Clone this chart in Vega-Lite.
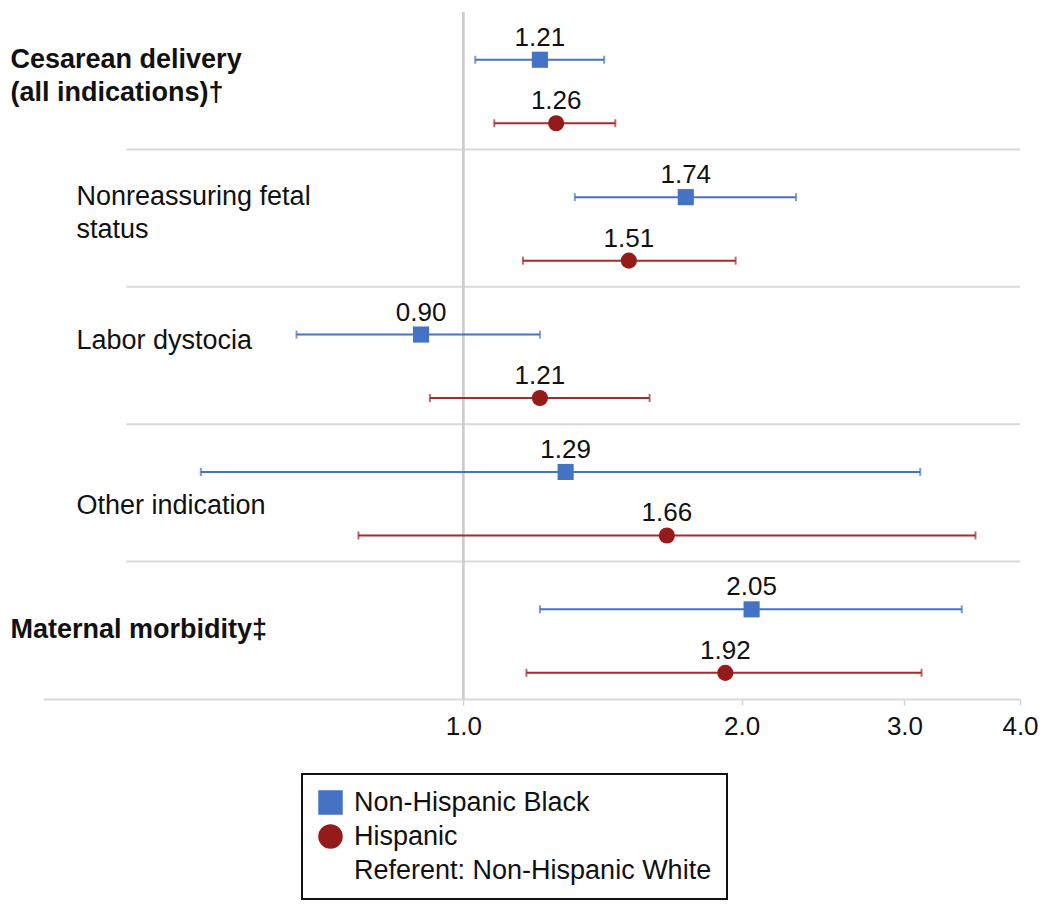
{
  "$schema": "https://vega.github.io/schema/vega-lite/v6.json",
  "width": 977,
  "height": 687,
  "padding": {"left": 10, "top": 11, "right": 5, "bottom": 5},
  "config": {
    "view": {"stroke": null},
    "font": "Liberation Sans",
    "legend": {
      "orient": "none",
      "legendX": 259,
      "legendY": 762,
      "title": null,
      "labelFontSize": 27,
      "labelFont": "Liberation Sans",
      "labelColor": "#111111",
      "symbolSize": 600,
      "strokeColor": "#111111",
      "strokeWidth": 2,
      "padding": 15,
      "rowPadding": 6,
      "labelOffset": 10,
      "labelLimit": 600,
      "symbolStrokeWidth": 0,
      "fillColor": "white"
    }
  },
  "data": {
    "values": [
      {"outcome": "Cesarean delivery|(all indications)†", "race": "Non-Hispanic Black", "or": 1.21, "lo": 1.03, "hi": 1.42},
      {"outcome": "Cesarean delivery|(all indications)†", "race": "Hispanic", "or": 1.26, "lo": 1.08, "hi": 1.46},
      {"outcome": "Nonreassuring fetal|status", "race": "Non-Hispanic Black", "or": 1.74, "lo": 1.32, "hi": 2.29},
      {"outcome": "Nonreassuring fetal|status", "race": "Hispanic", "or": 1.51, "lo": 1.16, "hi": 1.97},
      {"outcome": "Labor dystocia", "race": "Non-Hispanic Black", "or": 0.90, "lo": 0.66, "hi": 1.21},
      {"outcome": "Labor dystocia", "race": "Hispanic", "or": 1.21, "lo": 0.92, "hi": 1.59},
      {"outcome": "Other indication", "race": "Non-Hispanic Black", "or": 1.29, "lo": 0.52, "hi": 3.12},
      {"outcome": "Other indication", "race": "Hispanic", "or": 1.66, "lo": 0.77, "hi": 3.58},
      {"outcome": "Maternal morbidity‡", "race": "Non-Hispanic Black", "or": 2.05, "lo": 1.21, "hi": 3.46},
      {"outcome": "Maternal morbidity‡", "race": "Hispanic", "or": 1.92, "lo": 1.17, "hi": 3.13}
    ]
  },
  "layer": [
    {
      "transform": [{"filter": "datum.race === 'Hispanic' && indexof(datum.outcome, 'Cesarean') !== 0"}],
      "mark": {"type": "rule", "color": "#d9d9d9", "strokeWidth": 2},
      "encoding": {
        "x": {"datum": 0.432, "type": "quantitative", "scale": {"type": "log", "domain": [0.351, 4], "nice": false, "zero": false}},
        "x2": {"datum": 4},
        "y": {
          "field": "outcome", "type": "nominal", "bandPosition": 0,
          "sort": ["Cesarean delivery|(all indications)†", "Nonreassuring fetal|status", "Labor dystocia", "Other indication", "Maternal morbidity‡"],
          "scale": {"domain": ["Cesarean delivery|(all indications)†", "Nonreassuring fetal|status", "Labor dystocia", "Other indication", "Maternal morbidity‡"], "paddingInner": 0, "paddingOuter": 0},
          "axis": {
            "title": null,
            "domain": false,
            "ticks": false,
            "tickSize": 0,
            "labelExpr": "split(datum.value, '|')",
            "labelAlign": "left",
            "labelBaseline": "middle",
            "labelFontSize": 27,
            "labelFont": "Liberation Sans",
            "labelColor": "#111111",
            "labelLineHeight": 33,
            "labelLimit": 0,
            "labelFontWeight": {"condition": {"test": "indexof(datum.value, 'Cesarean') === 0 || indexof(datum.value, 'Maternal') === 0", "value": "bold"}, "value": "normal"},
            "labelPadding": {"condition": {"test": "indexof(datum.value, 'Cesarean') === 0 || indexof(datum.value, 'Maternal') === 0", "value": 33}, "value": -33},
            "labelOffset": {"condition": [
              {"test": "datum.value === 'Other indication'", "value": 13},
              {"test": "datum.value === 'Labor dystocia'", "value": -15},
              {"test": "datum.value === 'Maternal morbidity‡'", "value": 0}
            ], "value": -21}
          }
        }
      }
    },
    {
      "mark": {"type": "rule", "color": "#cccccc", "strokeWidth": 1.5},
      "encoding": {"x": {"datum": 1, "type": "quantitative"}}
    },
    {
      "mark": {"type": "rule", "strokeWidth": 2},
      "encoding": {
        "x": {"field": "lo", "type": "quantitative", "axis": {
          "title": null, "values": [1, 2, 3, 4], "format": ".1f", "grid": false,
          "domainColor": "#d9d9d9", "domainWidth": 2, "tickColor": "#d0d0d0", "tickSize": 6, "tickWidth": 1.5,
          "labelFontSize": 26, "labelFont": "Liberation Sans", "labelColor": "#111111", "labelPadding": 8, "labelFlush": false
        }},
        "x2": {"field": "hi"},
        "y": {"field": "outcome", "type": "nominal", "sort": ["Cesarean delivery|(all indications)†", "Nonreassuring fetal|status", "Labor dystocia", "Other indication", "Maternal morbidity‡"]},
        "yOffset": {"field": "race", "type": "nominal", "scale": {"domain": ["Non-Hispanic Black", "Hispanic"], "range": [16, 143], "paddingInner": 0, "paddingOuter": 0}},
        "stroke": {"field": "race", "type": "nominal", "legend": null, "scale": {"domain": ["Non-Hispanic Black", "Hispanic"], "range": ["#4472C4", "#A52A2A"]}}
      }
    },
    {
      "mark": {"type": "tick", "thickness": 2, "size": 8},
      "encoding": {
        "x": {"field": "lo", "type": "quantitative"},
        "y": {"field": "outcome", "type": "nominal", "sort": ["Cesarean delivery|(all indications)†", "Nonreassuring fetal|status", "Labor dystocia", "Other indication", "Maternal morbidity‡"]},
        "yOffset": {"field": "race", "type": "nominal"},
        "fill": {"field": "race", "type": "nominal", "legend": null, "scale": {"domain": ["Non-Hispanic Black", "Hispanic"], "range": ["#4472C4", "#A52A2A"]}}
      }
    },
    {
      "mark": {"type": "tick", "thickness": 2, "size": 8},
      "encoding": {
        "x": {"field": "hi", "type": "quantitative"},
        "y": {"field": "outcome", "type": "nominal", "sort": ["Cesarean delivery|(all indications)†", "Nonreassuring fetal|status", "Labor dystocia", "Other indication", "Maternal morbidity‡"]},
        "yOffset": {"field": "race", "type": "nominal"},
        "fill": {"field": "race", "type": "nominal", "legend": null}
      }
    },
    {
      "mark": {"type": "point", "filled": true, "opacity": 1, "size": 260},
      "encoding": {
        "x": {"field": "or", "type": "quantitative"},
        "y": {"field": "outcome", "type": "nominal", "sort": ["Cesarean delivery|(all indications)†", "Nonreassuring fetal|status", "Labor dystocia", "Other indication", "Maternal morbidity‡"]},
        "yOffset": {"field": "race", "type": "nominal"},
        "color": {"field": "race", "type": "nominal", "scale": {"domain": ["Non-Hispanic Black", "Hispanic", "Referent: Non-Hispanic White"], "range": ["#4472C4", "#951A1A", "rgba(255,255,255,0)"]}},
        "shape": {"field": "race", "type": "nominal", "scale": {"domain": ["Non-Hispanic Black", "Hispanic", "Referent: Non-Hispanic White"], "range": ["square", "circle", "circle"]}}
      }
    },
    {
      "mark": {"type": "text", "fontSize": 26, "font": "Liberation Sans", "color": "#111111", "dy": -22, "baseline": "middle"},
      "encoding": {
        "x": {"field": "or", "type": "quantitative"},
        "y": {"field": "outcome", "type": "nominal", "sort": ["Cesarean delivery|(all indications)†", "Nonreassuring fetal|status", "Labor dystocia", "Other indication", "Maternal morbidity‡"]},
        "yOffset": {"field": "race", "type": "nominal"},
        "text": {"field": "or", "type": "quantitative", "format": ".2f"}
      }
    }
  ]
}
